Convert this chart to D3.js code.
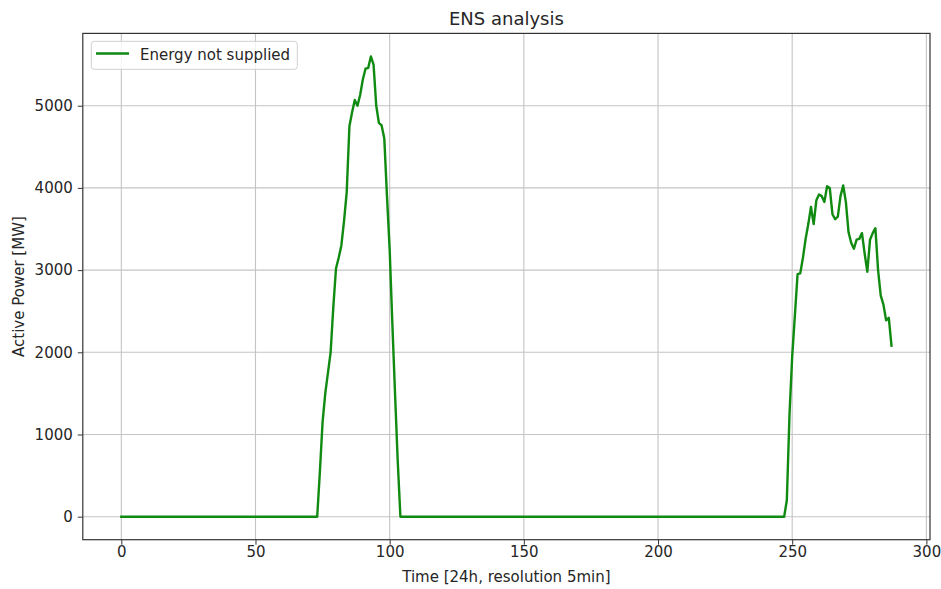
<!DOCTYPE html>
<html>
<head>
<meta charset="utf-8">
<script src="https://cdn.jsdelivr.net/npm/d3@7"></script>
<style>
  html, body { margin: 0; padding: 0; background: #fff; }
  svg { display: block; font-family: "DejaVu Sans", sans-serif; }
</style>
</head>
<body>
<svg id="chart" width="941" height="589"></svg>
<script>
// Energy not supplied over one day, 288 samples at 5-minute resolution.
const sampleCount = 288;

// Morning shortage event, samples 73..104
const morningStart = 73;
const morningValues = [
  0, 550, 1150, 1500, 1750, 2000, 2550, 3020, 3150, 3300,
  3600, 3950, 4750, 4920, 5070, 5000, 5130, 5320, 5450, 5460,
  5600, 5500, 5000, 4790, 4760, 4600, 3900, 3250, 2350, 1500,
  680, 0
];

// Evening shortage event, samples 247..287
const eveningStart = 247;
const eveningValues = [
  0, 200, 1250, 1950, 2450, 2950, 2960, 3150, 3380, 3560,
  3770, 3560, 3850, 3920, 3900, 3830, 4020, 4000, 3680, 3620,
  3650, 3900, 4030, 3830, 3460, 3330, 3260, 3370, 3380, 3450,
  3200, 2980, 3370, 3450, 3510, 3000, 2690, 2580, 2390, 2420,
  2080
];

const xTicks = [0, 50, 100, 150, 200, 250, 300];
const yTicks = [0, 1000, 2000, 3000, 4000, 5000];

const titleText = "ENS analysis";
const xLabel = "Time [24h, resolution 5min]";
const yLabel = "Active Power [MW]";
const seriesName = "Energy not supplied";

// Build the full-day series: zero outside the two events.
const ens = d3.range(sampleCount).map(() => 0);
morningValues.forEach((v, i) => { ens[morningStart + i] = v; });
eveningValues.forEach((v, i) => { ens[eveningStart + i] = v; });
const series = ens.map((v, i) => ({ t: i, v }));

const svg = d3.select("#chart");
const plot = { left: 82.8, right: 930, top: 33.4, bottom: 539.7 };

// 5% padding around the data range on both axes
const xExt = [0, sampleCount - 1];
const xPad = (xExt[1] - xExt[0]) * 0.05;
const yExt = d3.extent(ens);
const yPad = (yExt[1] - yExt[0]) * 0.05;

const x = d3.scaleLinear()
  .domain([xExt[0] - xPad, xExt[1] + xPad])
  .range([plot.left, plot.right]);
const y = d3.scaleLinear()
  .domain([yExt[0] - yPad, yExt[1] + yPad])
  .range([plot.bottom, plot.top]);

const textColor = "#262626";
const fontSize = 15;

// Grid
const grid = svg.append("g").attr("stroke", "#c4c4c4").attr("stroke-width", 1.1);
grid.selectAll("line.gx").data(xTicks).join("line")
  .attr("x1", d => x(d)).attr("x2", d => x(d))
  .attr("y1", plot.top).attr("y2", plot.bottom);
grid.selectAll("line.gy").data(yTicks).join("line")
  .attr("x1", plot.left).attr("x2", plot.right)
  .attr("y1", d => y(d)).attr("y2", d => y(d));

// Data line
const line = d3.line().x(d => x(d.t)).y(d => y(d.v));
svg.append("path")
  .datum(series)
  .attr("fill", "none")
  .attr("stroke", "#108a10")
  .attr("stroke-width", 2.4)
  .attr("stroke-linejoin", "round")
  .attr("stroke-linecap", "square")
  .attr("d", line);

// Axes
const xAxis = d3.axisBottom(x).tickValues(xTicks).tickSize(5).tickPadding(2).tickFormat(d3.format("d"));
const yAxis = d3.axisLeft(y).tickValues(yTicks).tickSize(5).tickPadding(5).tickFormat(d3.format("d"));

const gx = svg.append("g").attr("transform", `translate(0,${plot.bottom})`).call(xAxis);
const gy = svg.append("g").attr("transform", `translate(${plot.left},0)`).call(yAxis);
[gx, gy].forEach(g => {
  g.select(".domain").remove();
  g.selectAll(".tick line").attr("stroke", "#333").attr("stroke-width", 1);
  g.selectAll(".tick text")
    .attr("fill", textColor)
    .attr("font-size", fontSize)
    .attr("font-family", "DejaVu Sans, sans-serif");
});

// Frame
svg.append("rect")
  .attr("x", plot.left).attr("y", plot.top)
  .attr("width", plot.right - plot.left).attr("height", plot.bottom - plot.top)
  .attr("fill", "none").attr("stroke", "#333").attr("stroke-width", 1.2);

// Title and axis labels
svg.append("text")
  .attr("x", (plot.left + plot.right) / 2).attr("y", 25)
  .attr("text-anchor", "middle")
  .attr("font-size", 18).attr("fill", textColor)
  .text(titleText);

svg.append("text")
  .attr("x", (plot.left + plot.right) / 2).attr("y", 582)
  .attr("text-anchor", "middle")
  .attr("font-size", fontSize).attr("fill", textColor)
  .text(xLabel);

svg.append("text")
  .attr("transform", `translate(23.5,${(plot.top + plot.bottom) / 2}) rotate(-90)`)
  .attr("text-anchor", "middle")
  .attr("font-size", fontSize).attr("fill", textColor)
  .text(yLabel);

// Legend
const legend = svg.append("g");
legend.append("rect")
  .attr("x", 91.3).attr("y", 41.3).attr("width", 206).attr("height", 28)
  .attr("rx", 3)
  .attr("fill", "#fff").attr("fill-opacity", 0.8)
  .attr("stroke", "#d0d0d0").attr("stroke-width", 1);
legend.append("line")
  .attr("x1", 96).attr("x2", 129).attr("y1", 53.5).attr("y2", 53.5)
  .attr("stroke", "#108a10").attr("stroke-width", 2.4);
legend.append("text")
  .attr("x", 140).attr("y", 59.5)
  .attr("font-size", fontSize).attr("fill", textColor)
  .text(seriesName);
</script>
</body>
</html>
